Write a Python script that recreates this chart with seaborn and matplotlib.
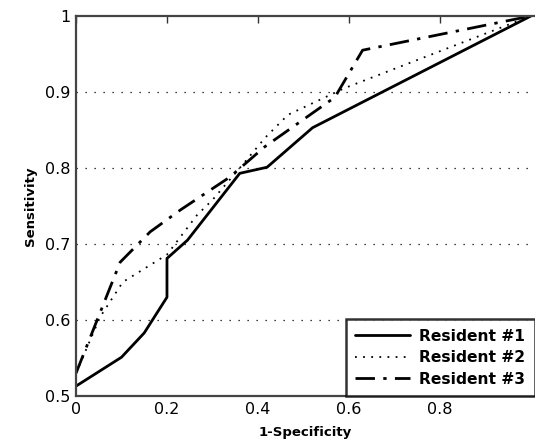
import matplotlib
matplotlib.use("Agg")
import matplotlib.pyplot as plt
import seaborn as sns
import pandas as pd

# Data
r1_x = [0.0, 0.10, 0.15, 0.20, 0.20, 0.245, 0.36, 0.42, 0.52, 1.0]
r1_y = [0.513, 0.551, 0.583, 0.630, 0.681, 0.705, 0.793, 0.801, 0.853, 1.0]

r2_x = [0.0, 0.053, 0.103, 0.20, 0.266, 0.30, 0.36, 0.416, 0.466, 0.59, 1.0]
r2_y = [0.530, 0.604, 0.650, 0.686, 0.738, 0.758, 0.800, 0.840, 0.870, 0.905, 1.0]

r3_x = [0.0, 0.097, 0.163, 0.23, 0.338, 0.415, 0.569, 0.63, 1.0]
r3_y = [0.530, 0.676, 0.716, 0.745, 0.788, 0.828, 0.893, 0.955, 1.0]

series_names = ["Resident #1", "Resident #2", "Resident #3"]
x_ticks = [0, 0.2, 0.4, 0.6, 0.8]
x_tick_labels = ["0", "0.2", "0.4", "0.6", "0.8"]
y_ticks = [0.5, 0.6, 0.7, 0.8, 0.9, 1.0]
y_tick_labels = ["0.5", "0.6", "0.7", "0.8", "0.9", "1"]

sns.set_theme(style="white")
plt.rcParams["font.family"] = ["DejaVu Sans"]
plt.rcParams["text.color"] = "black"
plt.rcParams["axes.labelcolor"] = "black"

W, H = 535, 445
fig = plt.figure(figsize=(W / 100, H / 100), dpi=100)
ax = fig.add_axes([76 / W, (H - 396) / H, 459 / W, 380 / H])

frames = []
for name, xs, ys in zip(series_names, [r1_x, r2_x, r3_x], [r1_y, r2_y, r3_y]):
    frames.append(pd.DataFrame({"fpr": xs, "tpr": ys, "who": name}))
df = pd.concat(frames, ignore_index=True)

styles = {
    "Resident #1": dict(linestyle="-", linewidth=2.0),
    "Resident #2": dict(linestyle=(0, (1, 3.5)), linewidth=1.3),
    "Resident #3": dict(linestyle=(0, (7, 3, 1.2, 3)), linewidth=2.0),
}
for name in series_names:
    sub = df[df["who"] == name]
    sns.lineplot(data=sub, x="fpr", y="tpr", ax=ax, color="black", sort=False,
                 estimator=None, label=name, **styles[name])

ax.set_xlim(0, 1.009)
ax.set_ylim(0.5, 1.0)
ax.set_xticks(x_ticks)
ax.set_xticklabels(x_tick_labels)
ax.set_yticks(y_ticks)
ax.set_yticklabels(y_tick_labels)

for yv in y_ticks[1:-1]:
    ax.axhline(yv, color="black", linestyle=(0, (1, 6.2)), linewidth=0.9, zorder=0)

ax.tick_params(axis="both", which="major", direction="in", length=5, width=1,
               labelsize=11.5, colors="#333333", labelcolor="black", top=True, pad=4)
ax.tick_params(axis="y", right=False)
for side in ["left", "bottom", "top"]:
    ax.spines[side].set_color("#444444")
    ax.spines[side].set_linewidth(1.6)
ax.spines["right"].set_visible(False)

ax.set_xlabel("1-Specificity", fontsize=9.5, fontweight="bold", labelpad=7, color="black")
ax.set_ylabel("Sensitivity", fontsize=9.5, fontweight="bold", labelpad=6, color="black")

leg = ax.legend(loc="lower left", bbox_to_anchor=((346 - 76) / 459, 0.0),
                frameon=True, fancybox=False, fontsize=11.2,
                handlelength=3.5, handletextpad=0.6, labelspacing=0.42,
                borderpad=0.6, borderaxespad=0.0)
leg.get_frame().set_edgecolor("black")
leg.get_frame().set_linewidth(1.8)
for t in leg.get_texts():
    t.set_fontweight("bold")
    t.set_color("black")

fig.savefig("out.png", dpi=100)
